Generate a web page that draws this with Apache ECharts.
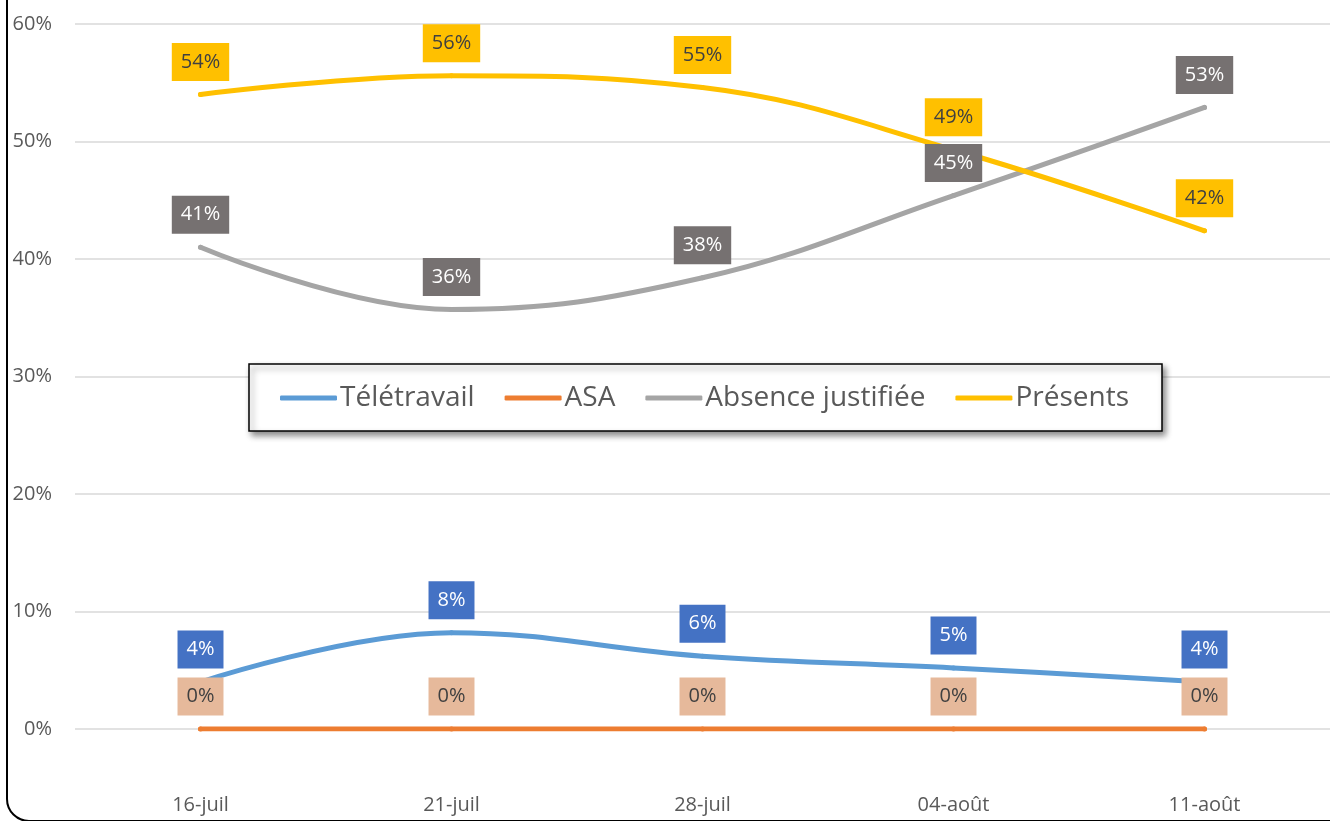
<!DOCTYPE html>
<html>
<head>
<meta charset="utf-8">
<script src="https://cdn.jsdelivr.net/npm/echarts@6/dist/echarts.min.js"></script>
<style>
  html, body { margin: 0; padding: 0; background: #fff; }
  #chart { width: 1330px; height: 821px; }
</style>
</head>
<body>
<div id="chart"></div>
<script>
const categories = ['16-juil', '21-juil', '28-juil', '04-août', '11-août']
const teletravail = [4.0, 8.2, 6.2, 5.2, 4.0]
const asa = [0, 0, 0, 0, 0]
const absence = [41.0, 35.7, 38.4, 45.4, 52.9]
const presents = [54.0, 55.6, 54.6, 49.3, 42.4]

const FONT = 'Open Sans'

// one line series with Excel-like boxed data labels
const makeSeries = (name, data, color, labelBg, labelColor) => ({
  name: name,
  type: 'line',
  data: data,
  smooth: 0.4,
  symbol: 'circle',
  symbolSize: 5,
  showSymbol: true,
  lineStyle: { color: color, width: 5, cap: 'round' },
  itemStyle: { color: color },
  label: {
    show: true,
    position: 'top',
    distance: 11,
    formatter: p => Math.round(p.value) + '%',
    fontFamily: FONT,
    fontSize: 20,
    lineHeight: 24,
    color: labelColor,
    backgroundColor: labelBg,
    padding: [7, 9]
  }
})

const chart = echarts.init(document.getElementById('chart'))

chart.setOption({
  backgroundColor: '#fff',
  animation: false,
  grid: { left: 75, right: 0, top: 24, bottom: 92 },
  xAxis: {
    type: 'category',
    data: categories,
    boundaryGap: true,
    axisLine: { show: false },
    axisTick: { show: false },
    axisLabel: { color: '#595959', fontFamily: FONT, fontSize: 20, margin: 66 }
  },
  yAxis: {
    type: 'value',
    min: 0,
    max: 60,
    interval: 10,
    axisLabel: { formatter: '{value}%', color: '#595959', fontFamily: FONT, fontSize: 20, margin: 23 },
    splitLine: { lineStyle: { color: '#D9D9D9', width: 1.5 } }
  },
  legend: {
    left: 280,
    top: 369,
    z: 10,
    padding: 0,
    itemGap: 30,
    itemWidth: 57,
    itemHeight: 5,
    icon: 'roundRect',
    textStyle: { color: '#595959', fontFamily: FONT, fontSize: 28, lineHeight: 58, padding: [0, 0, 0, -2] }
  },
  graphic: [
    {
      type: 'rect',
      z: 0,
      shape: { x: 7, y: -60, width: 1400, height: 881, r: 22 },
      style: { fill: 'none', stroke: '#000', lineWidth: 2 }
    },
    {
      type: 'rect',
      z: 1,
      shape: { x: 249, y: 364, width: 913, height: 67 },
      style: {
        fill: '#fff', stroke: '#000', lineWidth: 1.5,
        shadowColor: 'rgba(0,0,0,0.45)', shadowBlur: 6, shadowOffsetX: 3, shadowOffsetY: 4
      }
    }
  ],
  series: [
    makeSeries('Télétravail', teletravail, '#5B9BD5', '#4472C4', '#fff'),
    makeSeries('ASA', asa, '#ED7D31', '#E6B99B', '#404040'),
    makeSeries('Absence justifiée', absence, '#A5A5A5', '#767171', '#fff'),
    makeSeries('Présents', presents, '#FFC000', '#FFC000', '#404040')
  ]
})
</script>
</body>
</html>
